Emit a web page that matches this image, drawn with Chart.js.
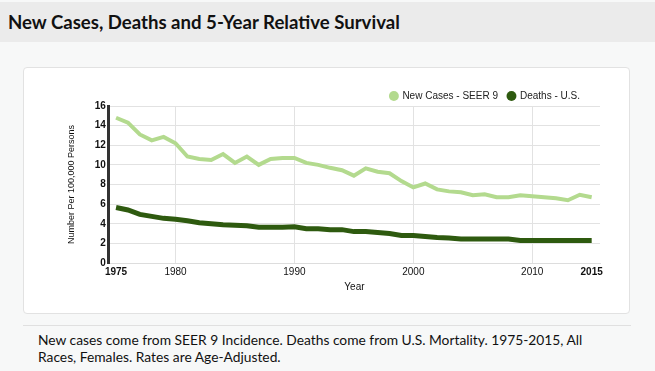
<!DOCTYPE html>
<html>
<head>
<meta charset="utf-8">
<script src="https://cdn.jsdelivr.net/npm/chart.js@4"></script>
<style>
  html, body { margin: 0; padding: 0; }
  body { width: 655px; height: 371px; background: #f7f8f8; position: relative; overflow: hidden; font-family: Lato, "Noto Sans", sans-serif; }
  .header { position: absolute; left: 0; top: 2px; width: 655px; height: 40px; background: #ebebeb; }
  .header h2 { margin: 0; position: absolute; left: 8px; top: 9px; font-size: 18.6px; font-weight: 700; color: #111; }
  .card { position: absolute; left: 23px; top: 67px; width: 607px; height: 247px; background: #fff; border: 1px solid #e2e2e2; border-radius: 4px; box-sizing: border-box; }
  .card canvas { position: absolute; left: 0; top: 0; }
  .sep { position: absolute; left: 23px; top: 325px; width: 608px; height: 1px; background: #e0e0e0; }
  .note { position: absolute; left: 38px; top: 331px; width: 580px; font-size: 13.8px; line-height: 17px; color: #111; }
</style>
</head>
<body>
<div class="header"><h2>New Cases, Deaths and 5-Year Relative Survival</h2></div>
<div class="card"><canvas id="trendChart" width="605" height="245"></canvas></div>
<div class="sep"></div>
<div class="note">New cases come from SEER 9 Incidence. Deaths come from U.S. Mortality. 1975-2015, All Races, Females. Rates are Age-Adjusted.</div>
<script>
// --- Data ---
const years = [1975, 1976, 1977, 1978, 1979, 1980, 1981, 1982, 1983, 1984, 1985, 1986, 1987, 1988,
    1989, 1990, 1991, 1992, 1993, 1994, 1995, 1996, 1997, 1998, 1999, 2000, 2001, 2002, 2003, 2004,
    2005, 2006, 2007, 2008, 2009, 2010, 2011, 2012, 2013, 2014, 2015];
const newCases = [14.8, 14.3, 13.1, 12.5, 12.85, 12.2, 10.85, 10.6, 10.5, 11.1, 10.2, 10.85, 10.0, 10.6,
    10.7, 10.7, 10.2, 10.0, 9.7, 9.45, 8.9, 9.65, 9.3, 9.15, 8.35, 7.7, 8.1, 7.5, 7.3, 7.2,
    6.9, 7.0, 6.7, 6.7, 6.9, 6.8, 6.7, 6.6, 6.4, 6.95, 6.7];
const deaths = [5.65, 5.4, 4.95, 4.75, 4.55, 4.45, 4.3, 4.1, 4.0, 3.9, 3.85, 3.8, 3.65, 3.65,
    3.65, 3.7, 3.5, 3.5, 3.4, 3.4, 3.2, 3.2, 3.1, 3.0, 2.8, 2.8, 2.7, 2.6, 2.55, 2.45,
    2.45, 2.45, 2.45, 2.45, 2.3, 2.3, 2.3, 2.3, 2.3, 2.3, 2.3];
const xTicks = [1975, 1980, 1990, 2000, 2010, 2015];
const boldYears = [1975, 2015];

const toPoints = vals => vals.map((v, i) => ({ x: years[i], y: v }));

// nudge the legend a little left and down, like the original
const legendNudge = {
    id: 'legendNudge',
    afterLayout(chart) {
        const lg = chart.legend;
        if (!lg) return;
        lg.left -= 10;
        lg.right -= 10;
        lg.top += 5;
        lg.bottom += 5;
    }
};

const ctx = document.getElementById('trendChart').getContext('2d');
new Chart(ctx, {
    type: 'line',
    data: {
        datasets: [{
            label: 'New Cases - SEER 9',
            data: toPoints(newCases),
            borderColor: '#b3da8e',
            backgroundColor: '#b3da8e',
            borderWidth: 4,
            pointRadius: 0,
            pointStyle: 'circle',
            tension: 0
        }, {
            label: 'Deaths - U.S.',
            data: toPoints(deaths),
            borderColor: '#2e5a0f',
            backgroundColor: '#2e5a0f',
            borderWidth: 5,
            pointRadius: 0,
            pointStyle: 'circle',
            tension: 0
        }]
    },
    options: {
        responsive: false,
        animation: false,
        layout: { padding: { left: 38, right: 29, top: 8, bottom: 16 } },
        plugins: {
            tooltip: { enabled: false },
            legend: {
                position: 'top',
                align: 'end',
                labels: {
                    usePointStyle: true,
                    boxWidth: 7,
                    boxHeight: 7,
                    padding: 10,
                    color: '#222',
                    font: { family: 'Liberation Sans', size: 10 },
                    generateLabels: chart => Chart.defaults.plugins.legend.labels.generateLabels(chart)
                        .map(item => ({ ...item, lineWidth: 0 }))
                }
            }
        },
        scales: {
            x: {
                type: 'linear',
                min: 1974.4,
                max: 2015.7,
                afterBuildTicks: scale => { scale.ticks = xTicks.map(v => ({ value: v })); },
                ticks: {
                    color: '#111',
                    padding: 3,
                    maxRotation: 0,
                    autoSkip: false,
                    callback: v => String(v),
                    font: c => ({
                        family: 'Liberation Sans',
                        size: 10,
                        weight: boldYears.includes(c.tick && c.tick.value) ? 'bold' : 'normal'
                    })
                },
                grid: {
                    drawTicks: false,
                    color: c => boldYears.includes(c.tick && c.tick.value) ? 'rgba(0,0,0,0)' : '#e2e2e2'
                },
                border: { color: '#dddddd', width: 1 },
                title: {
                    display: true,
                    text: 'Year',
                    color: '#111',
                    padding: { top: 0 },
                    font: { family: 'Liberation Sans', size: 10 }
                }
            },
            y: {
                min: 0,
                max: 16,
                ticks: {
                    stepSize: 2,
                    color: '#111',
                    padding: 3,
                    font: { family: 'Liberation Sans', size: 10, weight: 'bold' }
                },
                grid: { drawTicks: false, color: '#e2e2e2' },
                border: { color: '#333333', width: 3 },
                title: {
                    display: true,
                    text: 'Number Per 100,000 Persons',
                    color: '#111',
                    padding: { bottom: 15 },
                    font: { family: 'Liberation Sans', size: 9 }
                }
            }
        }
    },
    plugins: [legendNudge]
});
</script>
</body>
</html>
